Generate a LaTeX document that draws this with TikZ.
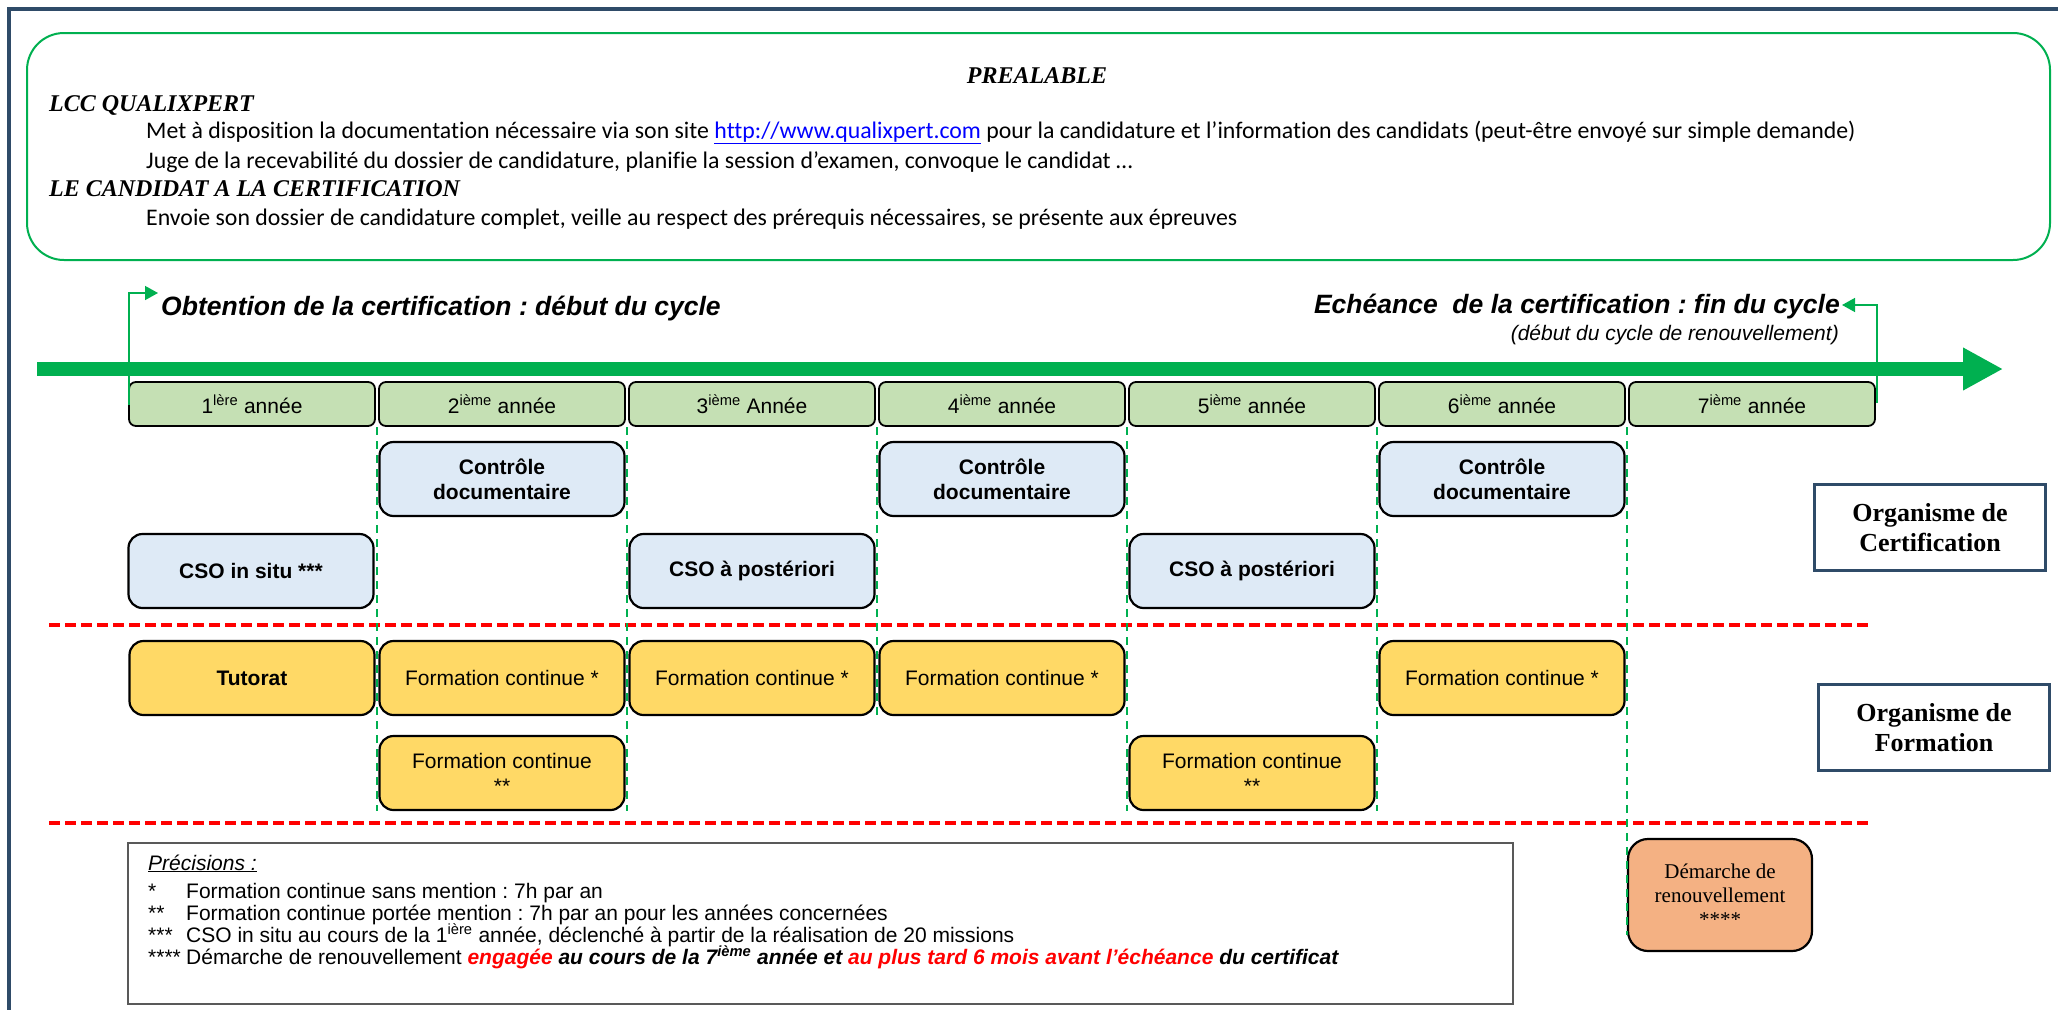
\documentclass[tikz,border=0pt]{standalone}
\usepackage{fontspec}
\setmainfont{Liberation Sans}
\newfontfamily\timesf{Liberation Serif}
\newfontfamily\calib[Ligatures=NoCommon]{Carlito}
\usetikzlibrary{arrows.meta}
\definecolor{navyb}{RGB}{47,75,104}
\definecolor{xgreen}{RGB}{0,176,80}
\definecolor{yeargreen}{RGB}{197,224,180}
\definecolor{ltblue}{RGB}{222,234,246}
\definecolor{goldy}{RGB}{255,217,102}
\definecolor{peach}{RGB}{244,177,131}
\definecolor{precgray}{RGB}{89,89,89}
\frenchspacing
\begin{document}
\begin{tikzpicture}[x=1pt,y=-1pt,
  yearbox/.style={draw=black, line width=1.8pt, fill=yeargreen, rounded corners=7pt, minimum width=246pt, minimum height=44pt, inner sep=0pt, font=\fontsize{21}{25}\selectfont},
  cobox/.style={draw=black, line width=2.2pt, fill=ltblue, rounded corners=14pt, minimum width=245pt, minimum height=74pt, inner sep=0pt, align=center, font=\bfseries\fontsize{21}{25}\selectfont},
  fcbox/.style={draw=black, line width=2.2pt, fill=goldy, rounded corners=14pt, minimum width=245pt, minimum height=74pt, inner sep=0pt, align=center, font=\fontsize{21}{25}\selectfont},
  orgbox/.style={draw=navyb, line width=2.5pt, minimum width=231pt, minimum height=86pt, inner sep=0pt, align=center, font=\timesf\bfseries\fontsize{26}{30}\selectfont},
  txt/.style={anchor=base west, inner sep=0pt},
  topfont/.style={font=\calib\fontsize{23.8}{28}\selectfont},
  gdash/.style={xgreen, line width=2.5pt, dash pattern=on 8pt off 6pt},
  rdash/.style={red, line width=4.5pt, dash pattern=on 11pt off 5pt},
  notefont/.style={font=\fontsize{21}{22}\selectfont},
]
\useasboundingbox (0,0) rectangle (2058,1009);
\fill[white] (0,0) rectangle (2058,1009);
% outer frame
\draw[navyb, line width=3.5pt] (9,1015) -- (9,9) -- (2065,9);
% preliminary box
\node[draw=xgreen, line width=2pt, rounded corners=37pt, minimum width=2023pt, minimum height=227pt, anchor=north west, inner sep=0pt] (pre) at (26,32) {};
\node[anchor=base, inner sep=0pt, font=\timesf\bfseries\itshape\fontsize{24}{28}\selectfont] (preal) at (1037,83) {PREALABLE};
\node[txt, font=\timesf\bfseries\itshape\fontsize{24}{28}\selectfont] (lcc) at (49,111) {LCC QUALIXPERT};
\node[txt, topfont] (met) at (146,138) {Met à disposition la documentation nécessaire via son site {\color{blue}\underline{http://www.qualixpert.com}} pour la candidature et l’information des candidats (peut-être envoyé sur simple demande)};
\node[txt, topfont] (juge) at (146,168) {Juge de la recevabilité du dossier de candidature, planifie la session d’examen, convoque le candidat …};
\node[txt, font=\timesf\bfseries\itshape\fontsize{24}{28}\selectfont] (cand) at (49,196) {LE CANDIDAT A LA CERTIFICATION};
\node[txt, topfont] (env) at (146,225) {Envoie son dossier de candidature complet, veille au respect des prérequis nécessaires, se présente aux épreuves};
% cycle headings
\node[txt, font=\bfseries\itshape\fontsize{26.5}{30}\selectfont] (obt) at (161,315) {Obtention de la certification : début du cycle};
\node[anchor=base east, inner sep=0pt, font=\bfseries\itshape\fontsize{26.5}{30}\selectfont] (ech) at (1840,313) {Echéance\ \ de la certification : fin du cycle};
\node[anchor=base east, inner sep=0pt, font=\itshape\fontsize{21}{24}\selectfont] (ren) at (1839,340) {(début du cycle de renouvellement)};
% main time arrow
\coordinate (ta) at (37,369);
\coordinate (tb) at (2003,369);
\draw[xgreen, line width=14pt, -{Triangle[length=40pt,width=40pt]}] (ta) -- (tb);
% years
\node[yearbox] (y1) at (252,404) {1\textsuperscript{lère} année};
\node[yearbox] (y2) at (502,404) {2\textsuperscript{ième} année};
\node[yearbox] (y3) at (752,404) {3\textsuperscript{ième} Année};
\node[yearbox] (y4) at (1002,404) {4\textsuperscript{ième} année};
\node[yearbox] (y5) at (1252,404) {5\textsuperscript{ième} année};
\node[yearbox] (y6) at (1502,404) {6\textsuperscript{ième} année};
\node[yearbox] (y7) at (1752,404) {7\textsuperscript{ième} année};
% elbow arrows
\coordinate (sa) at (129,405);
\coordinate (sb) at (158,293);
\draw[xgreen, line width=1.5pt, -{Triangle[length=13pt,width=14pt]}] (sa) |- (sb);
\coordinate (ea) at (1877,403);
\coordinate (eb) at (1842,305);
\draw[xgreen, line width=1.5pt, -{Triangle[length=13pt,width=14pt]}] (ea) |- (eb);
% certification row
\node[cobox] (cd2) at (502,479) {Contrôle\\documentaire};
\node[cobox] (cd4) at (1002,479) {Contrôle\\documentaire};
\node[cobox] (cd6) at (1502,479) {Contrôle\\documentaire};
\node[cobox] (cso1) at (251,571) {CSO in situ ***};
\node[cobox] (cso3) at (752,571) {CSO à postériori};
\node[cobox] (cso5) at (1252,571) {CSO à postériori};
% separators
\draw[rdash] (49,625) -- (1870,625);
\draw[rdash] (49,823) -- (1870,823);
% formation row
\node[fcbox, font=\bfseries\fontsize{21}{25}\selectfont] (tut) at (252,678) {Tutorat};
\node[fcbox] (fc2) at (502,678) {Formation continue *};
\node[fcbox] (fc3) at (752,678) {Formation continue *};
\node[fcbox] (fc4) at (1002,678) {Formation continue *};
\node[fcbox] (fc6) at (1502,678) {Formation continue *};
\node[fcbox] (fcc2) at (502,773) {Formation continue\\**};
\node[fcbox] (fcc5) at (1252,773) {Formation continue\\**};
% renewal
\node[draw=black, line width=2.2pt, fill=peach, rounded corners=20pt, minimum width=184pt, minimum height=112pt, inner sep=0pt, align=center, font=\timesf\fontsize{21}{24}\selectfont] (dem) at (1720,895) {Démarche de\\renouvellement\\****};
% year dividers
\draw[gdash] (377,427) -- (377,811);
\draw[gdash] (627,427) -- (627,811);
\draw[gdash] (877,427) -- (877,717);
\draw[gdash] (1127,427) -- (1127,811);
\draw[gdash] (1377,427) -- (1377,811);
\draw[gdash] (1627,427) -- (1627,935);
% organisms
\node[orgbox] (orgc) at (1930,527.5) {Organisme de\\Certification};
\node[orgbox] (orgf) at (1934,727.5) {Organisme de\\Formation};
% notes
\node[draw=precgray, line width=1.5pt, minimum width=1385pt, minimum height=161pt, anchor=north west, inner sep=0pt] (prec) at (127,842) {};
\node[txt, font=\itshape\fontsize{21}{22}\selectfont] (p0) at (148,870) {\underline{Précisions :}};
\node[txt, notefont] (s1) at (148,898) {*};
\node[txt, notefont] (p1) at (186,898) {Formation continue sans mention : 7h par an};
\node[txt, notefont] (s2) at (148,920) {**};
\node[txt, notefont] (p2) at (186,920) {Formation continue portée mention : 7h par an pour les années concernées};
\node[txt, notefont] (s3) at (148,942) {***};
\node[txt, notefont] (p3) at (186,942) {CSO in situ au cours de la 1\textsuperscript{ière} année, déclenché à partir de la réalisation de 20 missions};
\node[txt, notefont] (s4) at (148,964) {****};
\node[txt, notefont] (p4) at (186,964) {Démarche de renouvellement {\color{red}\bfseries\itshape engagée} {\bfseries\itshape au cours de la 7\textsuperscript{ième} année et} {\color{red}\bfseries\itshape au plus tard 6 mois avant l’échéance} {\bfseries\itshape du certificat}};
\end{tikzpicture}
\end{document}
